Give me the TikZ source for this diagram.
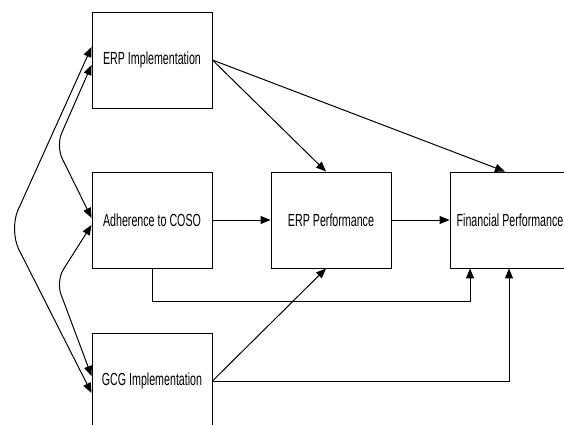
\documentclass[tikz,border=0pt]{standalone}
\usepackage{fontspec}
\setmainfont[FakeStretch=0.61]{Liberation Sans}
\usetikzlibrary{arrows.meta,calc}
\begin{document}
\begin{tikzpicture}[x=1pt,y=-1pt,
  box/.style={draw=black, line width=0.9pt, minimum width=120pt, minimum height=96pt,
    inner sep=0pt, font=\fontsize{17.5}{19}\selectfont},
  tip/.tip={Triangle[length=10pt,width=8pt]},
  conn/.style={line width=1pt, -tip},
  biconn/.style={line width=1pt, tip-tip}]
\useasboundingbox (0,0) rectangle (564,425);
\clip (0,0) rectangle (564,425);
\node[box] (ei) at (152,60) {ERP Implementation};
\node[box] (ad) at (152,220) {Adherence to COSO};
\node[box] (gc) at (152,381) {GCG Implementation};
\node[box] (ep) at (331,220) {ERP Performance};
\node[box] (fp) at (510,220) {Financial Performance};
\draw[conn] (ei.east) -- ($(ep.north)+(-5,0)$);
\draw[conn] (ei.east) -- ($(fp.north)+(-5,0)$);
\draw[conn] (ad.east) -- (ep.west);
\draw[conn] (ep.east) -- (fp.west);
\draw[conn] (ad.south) |- ($(fp.south)+(-40,33)$) -- ($(fp.south)+(-40,0)$);
\draw[conn] (gc.east) -| ($(fp.south)+(-1,0)$);
\draw[conn] (gc.east) -- ($(ep.south)+(-5,0)$);
\draw[biconn, rounded corners=22pt] ($(ei.west)+(0,-13)$) -- (9,230) -- ($(gc.west)+(0,12)$);
\draw[biconn, rounded corners=14pt] ($(ei.west)+(0,5)$) -- (56,146) -- ($(ad.west)+(0,-2)$);
\draw[biconn, rounded corners=14pt] ($(ad.west)+(0,5)$) -- (56,281) -- ($(gc.west)+(0,-5)$);
\end{tikzpicture}
\end{document}
